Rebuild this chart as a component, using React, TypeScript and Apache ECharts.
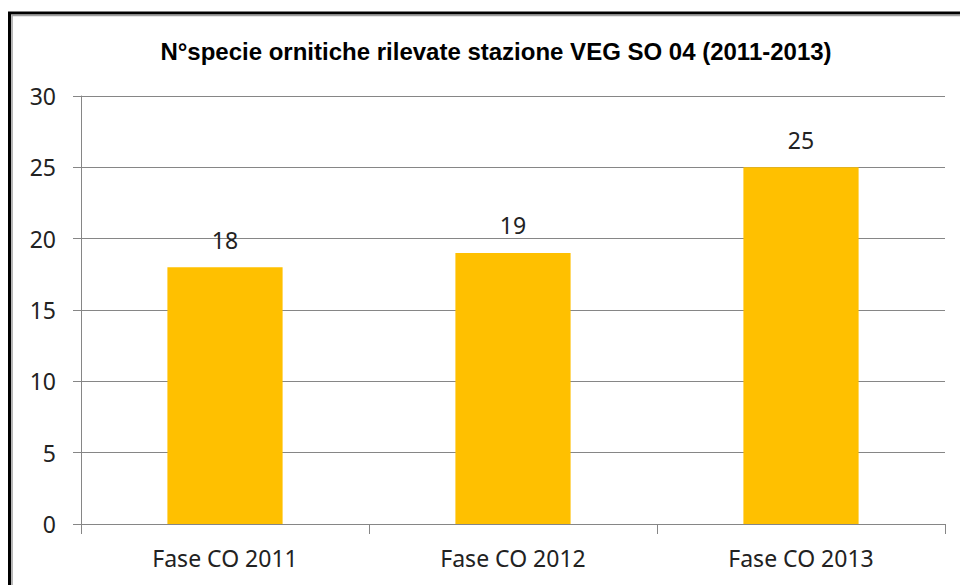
import React, { useEffect, useRef } from "react";
import * as echarts from "echarts";

const title = "N°specie ornitiche rilevate stazione VEG SO 04 (2011-2013)";
const categories = ["Fase CO 2011", "Fase CO 2012", "Fase CO 2013"];
const values = [18, 19, 25];
const yMin = 0;
const yMax = 30;
const yInterval = 5;

export default function App() {
  const ref = useRef<HTMLDivElement>(null);
  useEffect(() => {
    document.body.style.margin = "0";
    const chart = echarts.init(ref.current!, null, { renderer: "svg" });
    chart.setOption({
      animation: false,
      backgroundColor: "#ffffff",
      title: {
        text: title,
        left: 491,
        textAlign: "center",
        top: 34,
        textStyle: {
          fontFamily: "Liberation Sans",
          fontWeight: "bold",
          fontSize: 24,
          color: "#000000",
        },
      },
      graphic: [
        {
          type: "rect",
          shape: { x: 9.5, y: 13, width: 1000, height: 1000 },
          style: { fill: "none", stroke: "#000000", lineWidth: 3 },
          silent: true,
        },
        {
          type: "rect",
          shape: { x: 12, y: 15.5, width: 1000, height: 1000 },
          style: { fill: "none", stroke: "#a0a0a0", lineWidth: 1.5 },
          silent: true,
        },
      ],
      grid: { left: 81, right: 15, top: 96, bottom: 61, containLabel: false },
      xAxis: {
        type: "category",
        data: categories,
        axisLine: { show: true, lineStyle: { color: "#868686", width: 1 } },
        axisTick: { show: true, length: 10, alignWithLabel: false, lineStyle: { color: "#868686" } },
        axisLabel: {
          margin: 22,
          fontFamily: "Noto Sans",
          fontSize: 23,
          color: "#222222",
        },
      },
      yAxis: {
        type: "value",
        min: yMin,
        max: yMax,
        interval: yInterval,
        axisLine: { show: true, lineStyle: { color: "#868686", width: 1 } },
        axisTick: { show: true, length: 8, lineStyle: { color: "#868686" } },
        splitLine: { show: true, lineStyle: { color: "#868686", width: 1 } },
        axisLabel: {
          margin: 25,
          fontFamily: "Noto Sans",
          fontSize: 23,
          color: "#222222",
        },
      },
      series: [
        {
          type: "bar",
          data: values,
          barWidth: "40%",
          itemStyle: { color: "#FFC000" },
          label: {
            show: true,
            position: "top",
            distance: 16,
            fontFamily: "Noto Sans",
            fontSize: 23,
            color: "#222222",
          },
        },
      ],
    });
    return () => chart.dispose();
  }, []);
  return <div ref={ref} style={{ position: "absolute", left: 0, top: 0, width: 960, height: 585 }} />;
}
